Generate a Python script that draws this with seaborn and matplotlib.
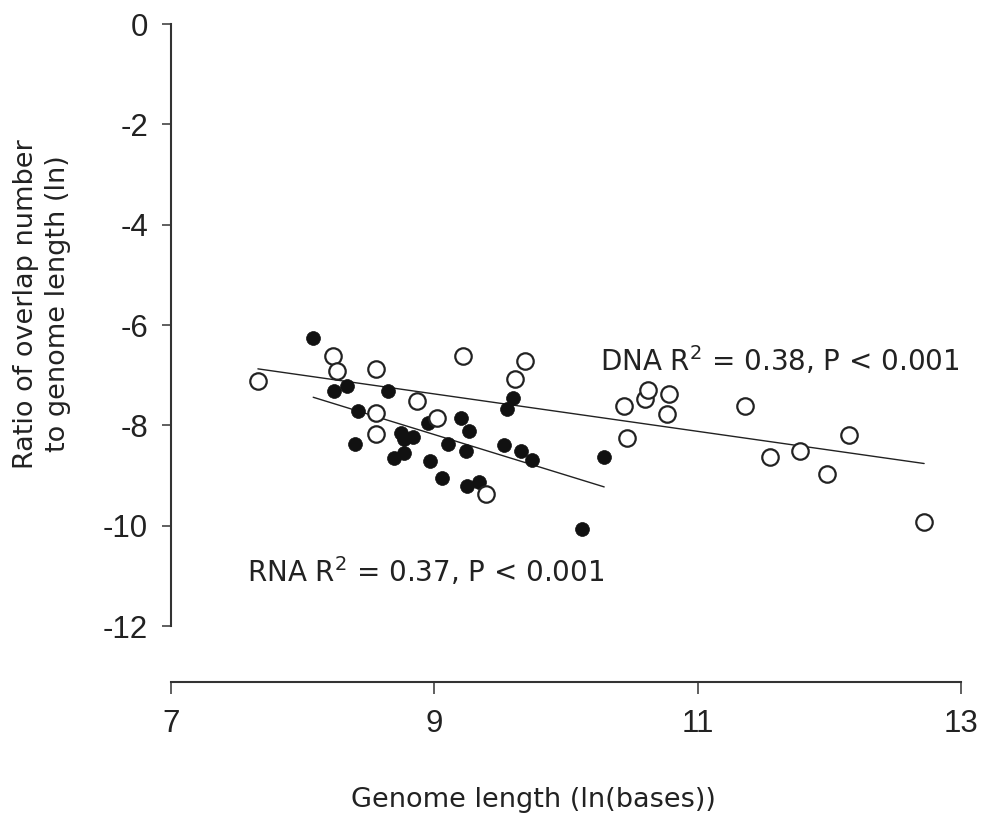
import matplotlib
matplotlib.use("Agg")
import matplotlib.pyplot as plt
import seaborn as sns
import numpy as np
import pandas as pd

# RNA viruses (filled circles)
rna_x = [8.08, 8.24, 8.34, 8.65, 8.42, 8.40, 8.75, 8.77, 8.84, 8.69, 8.77, 8.95, 8.97, 9.06,
         9.10, 9.20, 9.26, 9.24, 9.25, 9.34, 9.53, 9.60, 9.55, 9.66, 9.74, 10.29, 10.12]
rna_y = [-6.26, -7.31, -7.22, -7.31, -7.71, -8.37, -8.15, -8.28, -8.23, -8.66, -8.56, -7.96, -8.72, -9.04,
         -8.38, -7.86, -8.12, -8.51, -9.21, -9.12, -8.39, -7.46, -7.68, -8.51, -8.69, -8.64, -10.07]
# DNA viruses (open circles)
dna_x = [7.66, 8.23, 8.26, 8.56, 8.56, 8.56, 8.87, 9.02, 9.22, 9.39, 9.61, 9.69,
         10.44, 10.46, 10.60, 10.62, 10.78, 10.77, 11.36, 11.55, 11.78, 11.98, 12.15, 12.72]
dna_y = [-7.11, -6.61, -6.91, -6.88, -7.76, -8.17, -7.51, -7.85, -6.62, -9.37, -7.08, -6.72,
         -7.61, -8.25, -7.47, -7.30, -7.38, -7.77, -7.61, -8.64, -8.51, -8.97, -8.19, -9.93]

x_ticks = [7, 9, 11, 13]
y_ticks = [0, -2, -4, -6, -8, -10, -12]
dna_label = "DNA R$^2$ = 0.38, P < 0.001"
rna_label = "RNA R$^2$ = 0.37, P < 0.001"
x_label = "Genome length (ln(bases))"
y_label = "Ratio of overlap number\nto genome length (ln)"

rna = pd.DataFrame({"x": rna_x, "y": rna_y})
dna = pd.DataFrame({"x": dna_x, "y": dna_y})

sns.set_style("ticks")
plt.rcParams["font.family"] = ["DejaVu Sans"]
plt.rcParams["mathtext.fontset"] = "dejavusans"

fig = plt.figure(figsize=(9.85, 8.19), dpi=100)
ax = fig.add_axes([171 / 985, 1 - 681.5 / 819, 790 / 985, 0.8211])

ink = "#222222"
sns.regplot(data=rna, x="x", y="y", ax=ax, ci=None, scatter=False,
            line_kws=dict(color=ink, lw=1.0), truncate=True)
sns.regplot(data=dna, x="x", y="y", ax=ax, ci=None, scatter=False,
            line_kws=dict(color=ink, lw=1.0), truncate=True)
sns.scatterplot(data=rna, x="x", y="y", ax=ax, s=100, color="#111111",
                edgecolor="#111111", linewidth=0.5, zorder=3, clip_on=False)
sns.scatterplot(data=dna, x="x", y="y", ax=ax, s=140, facecolor="white",
                edgecolor="#222222", linewidth=1.6, zorder=4, clip_on=False)

ax.set_xlim(7, 13)
ax.set_ylim(-13.106, 0.3)
ax.set_xticks(x_ticks)
ax.set_yticks(y_ticks)
ax.set_xticklabels([str(v) for v in x_ticks], family="Liberation Sans", fontsize=22.5, color=ink)
ax.set_yticklabels([str(v) for v in y_ticks], family="Liberation Sans", fontsize=22.5, color=ink)
ax.tick_params(axis="y", length=6.5, width=1.2, pad=10, colors="#444444", labelcolor=ink)
ax.tick_params(axis="x", length=8.5, width=1.2, pad=11, colors="#444444", labelcolor=ink)
for s in ["top", "right"]:
    ax.spines[s].set_visible(False)
ax.spines["left"].set_bounds(-12, 0)
ax.spines["bottom"].set_bounds(7, 13)
ax.spines["left"].set_linewidth(1.5)
ax.spines["bottom"].set_linewidth(1.5)
ax.spines["left"].set_color("#333333")
ax.spines["bottom"].set_color("#333333")
ax.set_xlabel("")
ax.set_ylabel("")

ax.text(10.258, -6.70, dna_label, fontsize=20, color=ink, ha="left", va="center")
ax.text(7.577, -10.92, rna_label, fontsize=20, color=ink, ha="left", va="center")

fig.text(533 / 985, 1 - 800 / 819, x_label, fontsize=19.5, color=ink, ha="center", va="center")
fig.text(42 / 985, 1 - 304 / 819, y_label, fontsize=19.5, color=ink, ha="center", va="center",
         rotation=90, multialignment="center", linespacing=1.3)

fig.savefig("out.png", dpi=100)
